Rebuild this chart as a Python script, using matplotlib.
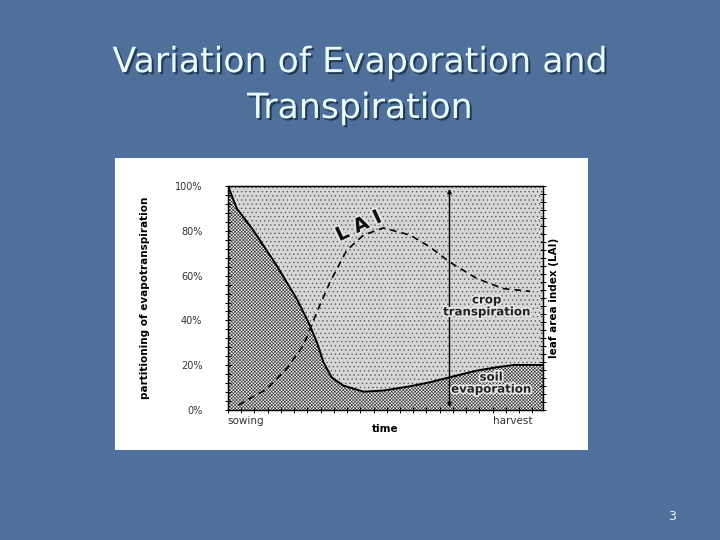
import numpy as np
import matplotlib
matplotlib.use("Agg")
import matplotlib.pyplot as plt
import matplotlib.patheffects as pe

# 数据：时间（0 = 播种, 100 = 图右端）
time_evap = [0, 2.8, 8.0, 15.4, 21.8, 26.0, 28.2, 30.3, 32.9, 36.6, 43.0, 49.3,
             57.8, 64.1, 70.3, 79.0, 85.3, 90.6, 100]
soil_evap = [100, 90, 80.3, 64.6, 49.7, 37.8, 30.3, 21.3, 14.6, 10.9, 8.2, 8.7,
             10.6, 12.4, 14.6, 17.6, 19.1, 20.1, 20.1]

time_lai = [3.3, 12.3, 18.6, 23.9, 28.2, 32.4, 37.7, 43.0, 49.3, 57.8, 64.1,
            70.3, 79.0, 87.4, 95.9]
lai = [2.2, 9.4, 18.4, 28.8, 43.7, 57.2, 71.3, 78.1, 81.3, 78.1, 72.8, 66.1,
       58.7, 54.2, 53.0]

yticks = [0, 20, 40, 60, 80, 100]
ytick_labels = ['0%', '20%', '40%', '60%', '80%', '100%']
x_labels = ['sowing', 'harvest']
x_label_pos = [5.7, 90.5]
arrow_x = 70.3

bg = '#4e709a'
plt.rcParams['hatch.linewidth'] = 0.45

fig = plt.figure(figsize=(7.2, 5.4), dpi=100)
fig.patch.set_facecolor(bg)

# 标题
shadow = [pe.withSimplePatchShadow(offset=(1.5, -1.5), shadow_rgbFace='#1c2d44', alpha=0.8)]
fig.text(0.5, 0.885, 'Variation of Evaporation and', ha='center', va='center',
         fontsize=25, color='#e8fcfc', family='DejaVu Sans', path_effects=shadow)
fig.text(0.5, 0.80, 'Transpiration', ha='center', va='center',
         fontsize=25, color='#e8fcfc', family='DejaVu Sans', path_effects=shadow)
fig.text(0.934, 0.043, '3', ha='center', va='center', fontsize=9, color='#e8fcfc')

# 白色图片底板
ax_bg = fig.add_axes([0.1597, 0.1667, 0.657, 0.5407], zorder=0)
ax_bg.set_facecolor('white')
ax_bg.set_xticks([])
ax_bg.set_yticks([])
for s in ax_bg.spines.values():
    s.set_visible(False)

ax = fig.add_axes([0.3167, 0.2407, 0.4375, 0.4148], zorder=2)
ax.set_xlim(0, 100)
ax.set_ylim(0, 100)

x = np.array(time_evap)
y = np.array(soil_evap)
ax.fill_between(x, y, 100, facecolor='#d6d6d6', edgecolor='#555555', hatch='....', linewidth=0)
ax.fill_between(x, 0, y, facecolor='#f4f4f4', edgecolor='#333333', hatch='xxxxxxxxxx', linewidth=0)
ax.plot(x, y, color='black', lw=1.4)
ax.plot(time_lai, lai, color='black', lw=1.2, dashes=(4, 3))

# 双向箭头
ax.annotate('', xy=(arrow_x, 100), xytext=(arrow_x, 0),
            arrowprops=dict(arrowstyle='<|-|>', color='black', lw=1.0, mutation_scale=6))

halo = [pe.withStroke(linewidth=2.5, foreground='#e6e6e6')]
ax.text(82.1, 46.5, 'crop\ntranspiration', ha='center', va='center', fontsize=8.5,
        fontweight='bold', color='#222222', linespacing=0.9, path_effects=halo)
ax.text(83.5, 12, 'soil\nevaporation', ha='center', va='center', fontsize=8.5,
        fontweight='bold', color='#222222', linespacing=0.9, path_effects=halo)
ax.text(41.5, 82, 'L A I', ha='center', va='center', fontsize=14, rotation=25,
        fontweight='bold', color='#111111', path_effects=halo)

ax.set_yticks(yticks)
ax.set_yticklabels(ytick_labels, fontsize=7, color='#333333')
ax.set_yticks(np.arange(0, 101, 4), minor=True)
ax.tick_params(axis='y', which='both', direction='inout', length=5, width=0.7, pad=16)

ax.set_xticks(x_label_pos)
ax.set_xticklabels(x_labels, fontsize=7.5, color='#333333')
ax.tick_params(axis='x', which='major', length=0, pad=4)
ax.set_xticks(np.arange(0, 100, 4.2), minor=True)
ax.tick_params(axis='x', which='minor', direction='inout', length=5, width=0.7)
ax.set_xlabel('time', fontsize=7.5, fontweight='bold', labelpad=-1)
ax.set_ylabel('partitioning of evapotranspiration', fontsize=7.5, fontweight='bold', labelpad=18)

ax2 = ax.twinx()
ax2.set_ylim(0, 100)
ax2.set_yticks(np.arange(0, 101, 3.6))
ax2.tick_params(axis='y', direction='inout', length=5, width=0.7, labelright=False)
ax2.set_ylabel('leaf area index (LAI)', fontsize=7.5, fontweight='bold', labelpad=2)

for a in (ax, ax2):
    for s in a.spines.values():
        s.set_linewidth(0.9)

fig.savefig('out.png', dpi=100, facecolor=bg)
